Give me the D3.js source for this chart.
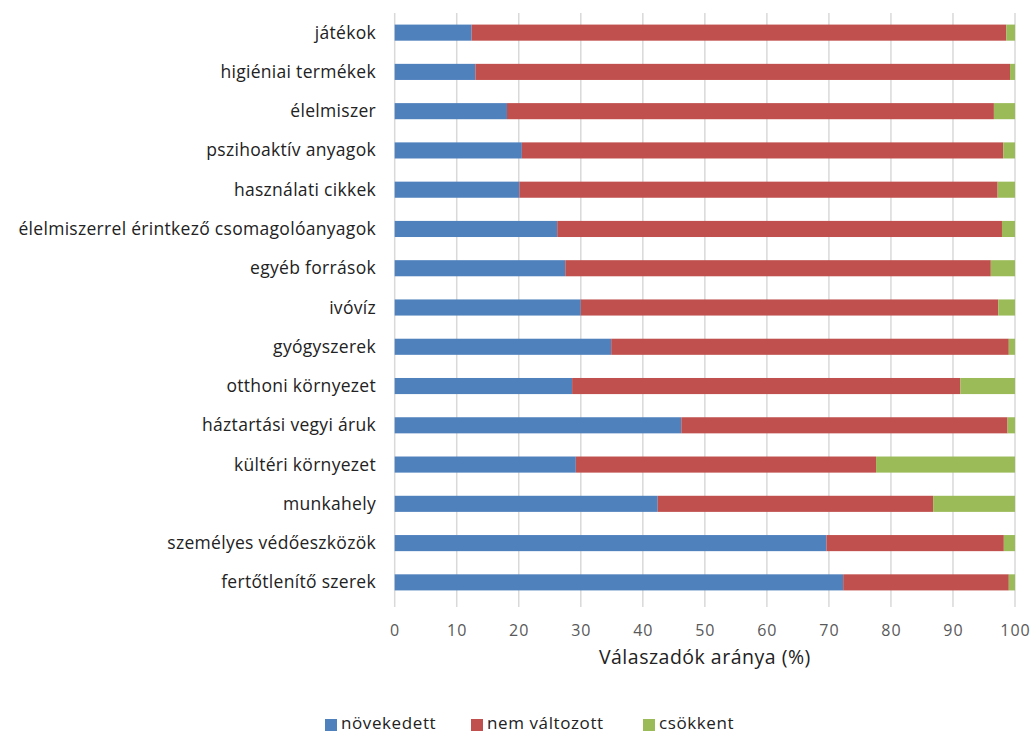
<!DOCTYPE html>
<html>
<head>
<meta charset="utf-8">
<script src="https://cdn.jsdelivr.net/npm/d3@7"></script>
<style>
  body { margin: 0; background: #fff; }
  text { font-family: "Open Sans", "Noto Sans", sans-serif; }
</style>
</head>
<body>
<div id="chart"></div>
<script>
// categories, top to bottom
const categories = [
  'játékok',
  'higiéniai termékek',
  'élelmiszer',
  'pszihoaktív anyagok',
  'használati cikkek',
  'élelmiszerrel érintkező csomagolóanyagok',
  'egyéb források',
  'ivóvíz',
  'gyógyszerek',
  'otthoni környezet',
  'háztartási vegyi áruk',
  'kültéri környezet',
  'munkahely',
  'személyes védőeszközök',
  'fertőtlenítő szerek'
];

// percentages
const novekedett = [12.4, 13.0, 18.1, 20.5, 20.1, 26.2, 27.5, 30.0, 34.9, 28.6, 46.2, 29.2, 42.4, 69.6, 72.3];
const nemValtozott = [86.2, 86.2, 78.5, 77.6, 77.1, 71.7, 68.6, 67.3, 64.1, 62.6, 52.6, 48.4, 44.4, 28.6, 26.7];
const csokkent = [1.4, 0.8, 3.4, 1.9, 2.8, 2.1, 3.9, 2.7, 1.0, 8.8, 1.2, 22.4, 13.2, 1.8, 1.0];

const seriesNames = ['növekedett', 'nem változott', 'csökkent'];
const ticks = [0, 10, 20, 30, 40, 50, 60, 70, 80, 90, 100];

const colors = ['#4F81BD', '#C0504D', '#9BBB59'];

const W = 1033, H = 734;
const plot = {left: 394.7, right: 1015, top: 13, bottom: 602};

const rows = categories.map((c, i) => ({
  cat: c,
  'növekedett': novekedett[i],
  'nem változott': nemValtozott[i],
  'csökkent': csokkent[i]
}));

const stacked = d3.stack().keys(seriesNames)(rows);

const x = d3.scaleLinear().domain([0, 100]).range([plot.left, plot.right]);
const y = d3.scaleBand().domain(categories)
  .range([plot.top, plot.bottom])
  .paddingInner(0.59)
  .paddingOuter(0.295);
const color = d3.scaleOrdinal().domain(seriesNames).range(colors);

const svg = d3.select('#chart').append('svg')
  .attr('width', W)
  .attr('height', H);

// gridlines (with little tick marks below the plot)
svg.append('g')
  .selectAll('line')
  .data(ticks)
  .enter()
  .append('line')
  .attr('x1', d => x(d))
  .attr('x2', d => x(d))
  .attr('y1', plot.top)
  .attr('y2', plot.bottom + 5)
  .style('stroke', '#d9d9d9')
  .style('stroke-width', 1.5);

// bars
svg.append('g')
  .selectAll('g')
  .data(stacked)
  .enter()
  .append('g')
  .style('fill', d => color(d.key))
  .selectAll('rect')
  .data(d => d)
  .enter()
  .append('rect')
  .attr('x', d => x(d[0]))
  .attr('width', d => x(d[1]) - x(d[0]))
  .attr('y', d => y(d.data.cat))
  .attr('height', y.bandwidth());

// category labels
svg.append('g')
  .selectAll('text')
  .data(categories)
  .enter()
  .append('text')
  .attr('x', 376)
  .attr('y', d => y(d) + y.bandwidth() / 2 + 6)
  .attr('text-anchor', 'end')
  .style('font-size', '17.5px')
  .style('letter-spacing', '0.3px')
  .style('fill', '#222')
  .text(d => d);

// tick labels
svg.append('g')
  .selectAll('text')
  .data(ticks)
  .enter()
  .append('text')
  .attr('x', d => x(d) + 0.5)
  .attr('y', 636)
  .attr('text-anchor', 'middle')
  .style('font-size', '16px')
  .style('letter-spacing', '1px')
  .style('fill', '#595959')
  .text(d => d);

// axis title
svg.append('text')
  .attr('x', (plot.left + plot.right) / 2)
  .attr('y', 664)
  .attr('text-anchor', 'middle')
  .style('font-size', '19.5px')
  .style('letter-spacing', '0.5px')
  .style('fill', '#222')
  .text('Válaszadók aránya (%)');

// legend
const legendX = [325, 471, 643];
const legend = svg.append('g')
  .selectAll('g')
  .data(seriesNames)
  .enter()
  .append('g')
  .attr('transform', (d, i) => `translate(${legendX[i]}, 0)`);

legend.append('rect')
  .attr('x', 0)
  .attr('y', 719)
  .attr('width', 12)
  .attr('height', 12)
  .style('fill', d => color(d));

legend.append('text')
  .attr('x', 16)
  .attr('y', 729)
  .style('font-size', '17px')
  .style('letter-spacing', '0.6px')
  .style('fill', '#222')
  .text(d => d);
</script>
</body>
</html>
